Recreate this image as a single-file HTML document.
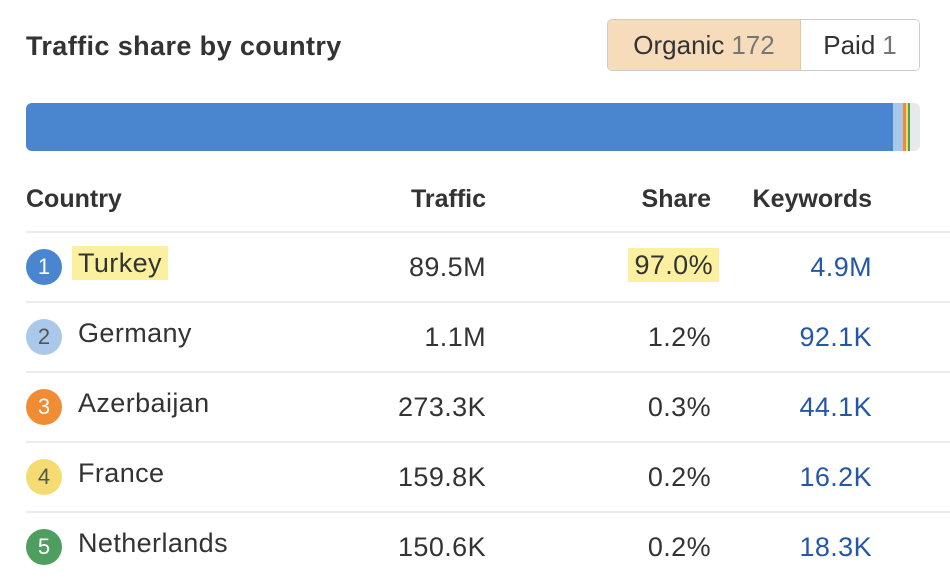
<!DOCTYPE html>
<html><head><meta charset="utf-8"><style>
body{margin:0;width:950px;height:578px;background:#fff;font-family:"Liberation Sans",sans-serif;color:#333;position:relative;overflow:hidden}
.abs{position:absolute}
.title{left:26px;top:31px;font-size:27px;letter-spacing:0.4px;font-weight:bold;color:#333}
.toggle{left:607px;top:19px;width:311px;height:50px;border:1px solid #ccc;border-radius:5px;overflow:hidden;display:flex;font-size:26px}
.toggle div{display:flex;align-items:center;justify-content:center}
.org{width:192px;background:#f6dcbb;border-right:1px solid #e3c8a4}
.paid{flex:1;background:#fff}
.cnt{color:#777;margin-left:7px}
.bar{left:26px;top:103px;width:894px;height:48px;background:#e8e9ea;border-radius:6px;overflow:hidden;display:flex}
.hdr{font-size:25px;font-weight:bold;top:185px}
.row{font-size:27px;letter-spacing:0.4px}
.sep{left:26px;width:924px;height:2px;background:#ececec}
.num{text-align:right}
.kw{color:#2457a8}
.dot{width:36px;height:36px;border-radius:50%;font-size:22px;display:flex;align-items:center;justify-content:center}
.hl{background:#fbf0a0;padding:2px 6px}
</style></head><body>
<div class="abs title">Traffic share by country</div>
<div class="abs toggle">
<div class="org">Organic<span class="cnt">172</span></div>
<div class="paid">Paid<span class="cnt">1</span></div>
</div>
<div class="abs bar" id="bar"></div>
<div class="abs hdr" style="left:26px">Country</div>
<div class="abs hdr" style="right:464px">Traffic</div>
<div class="abs hdr" style="right:239px">Share</div>
<div class="abs hdr" style="right:78px">Keywords</div>
<div id="rows"></div>
<script>
const countries=["Turkey","Germany","Azerbaijan","France","Netherlands"];
const traffic=["89.5M","1.1M","273.3K","159.8K","150.6K"];
const shares=[97.0,1.2,0.3,0.2,0.2];
const keywords=["4.9M","92.1K","44.1K","16.2K","18.3K"];
const colors=["#4a86d0","#a9c8ea","#ef8c34","#f5dc72","#4e9e60"];
const bar=document.getElementById('bar');
const W=894;
shares.forEach((s,i)=>{
 const d=document.createElement('div');
 
 
 d.style.width=Math.max(1,s/100*W*0.9995)+'px';d.style.height='100%';d.style.background=colors[i];
 bar.appendChild(d);
});
const R=document.getElementById('rows');
countries.forEach((c,i)=>{
 const y=232+i*70;
 const cy=y+35;
 let h='';
 h+=`<div class="abs sep" style="top:${y-1}px"></div>`;
 h+=`<div class="abs dot" style="left:26px;top:${cy-18}px;background:${colors[i]};color:${i==0||i==2||i==4?'#fff':'#555'}">${i+1}</div>`;
 h+=`<div class="abs row" style="left:${i==0?72:78}px;top:${cy-19}px"><span ${i==0?'class="hl"':''}>${c}</span></div>`;
 h+=`<div class="abs row num" style="right:464px;top:${cy-15}px">${traffic[i]}</div>`;
 h+=`<div class="abs row num" style="right:${i==0?231:239}px;top:${cy-(i==0?17:15)}px"><span ${i==0?'class="hl"':''}>${shares[i].toFixed(1)}%</span></div>`;
 h+=`<div class="abs row num kw" style="right:78px;top:${cy-15}px">${keywords[i]}</div>`;
 R.insertAdjacentHTML('beforeend',h);
});
</script>
</body></html>
